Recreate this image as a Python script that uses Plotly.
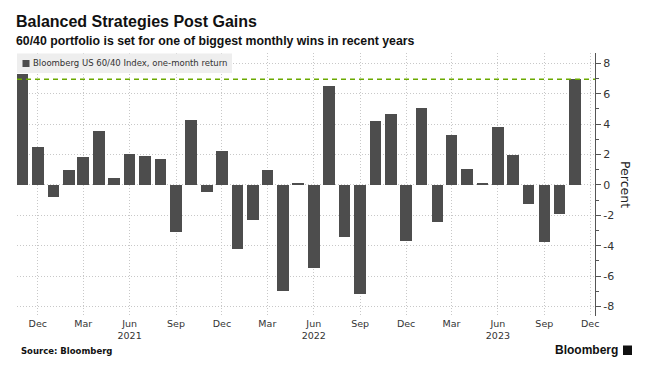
import plotly.graph_objects as go

# ---- data ----
months = [
    "2020-11-01", "2020-12-01", "2021-01-01", "2021-02-01", "2021-03-01", "2021-04-01",
    "2021-05-01", "2021-06-01", "2021-07-01", "2021-08-01", "2021-09-01", "2021-10-01",
    "2021-11-01", "2021-12-01", "2022-01-01", "2022-02-01", "2022-03-01", "2022-04-01",
    "2022-05-01", "2022-06-01", "2022-07-01", "2022-08-01", "2022-09-01", "2022-10-01",
    "2022-11-01", "2022-12-01", "2023-01-01", "2023-02-01", "2023-03-01", "2023-04-01",
    "2023-05-01", "2023-06-01", "2023-07-01", "2023-08-01", "2023-09-01", "2023-10-01",
    "2023-11-01",
]
returns = [
    7.3, 2.5, -0.8, 1.0, 1.85, 3.55,
    0.44, 2.05, 1.9, 1.7, -3.1, 4.27,
    -0.45, 2.24, -4.2, -2.28, 1.0, -6.95,
    0.13, -5.46, 6.5, -3.4, -7.2, 4.23,
    4.67, -3.66, 5.09, -2.41, 3.29, 1.07,
    0.07, 3.8, 2.0, -1.22, -3.76, -1.9,
    6.95,
]
latest_value = 6.95

tick_dates = [
    "2020-12-01", "2021-03-01", "2021-06-01", "2021-09-01", "2021-12-01",
    "2022-03-01", "2022-06-01", "2022-09-01", "2022-12-01", "2023-03-01",
    "2023-06-01", "2023-09-01", "2023-12-01",
]
tick_labels = [
    "Dec", "Mar", "Jun<br>2021", "Sep", "Dec", "Mar", "Jun<br>2022", "Sep",
    "Dec", "Mar", "Jun<br>2023", "Sep", "Dec",
]
y_ticks = [8, 6, 4, 2, 0, -2, -4, -6, -8]

title = "Balanced Strategies Post Gains"
subtitle = "60/40 portfolio is set for one of biggest monthly wins in recent years"
series_name = "Bloomberg US 60/40 Index, one-month return"

DAY_MS = 86400000

# page body has an 8px default margin; the figure is sized to fill the rest
PW, PH = 578, 263          # plot area size in px
L0, T0 = 17, 53            # plot area top-left in page px


def px(xp):
    return (xp - L0) / PW


def py(yp):
    return (T0 + PH - yp) / PH


fig = go.Figure()
fig.add_trace(go.Bar(
    x=months, y=returns,
    width=22.8 * DAY_MS,
    marker=dict(color="#4d4d4d", line=dict(width=0)),
    name=series_name, showlegend=False,
))

# dashed reference line at latest value
fig.add_shape(type="line", xref="paper", yref="y", x0=0, x1=1,
              y0=latest_value, y1=latest_value,
              line=dict(color="#6aa900", width=1.4, dash="5px,4px"), layer="above")

# legend box
fig.add_shape(type="rect", xref="paper", yref="paper",
              x0=0, x1=px(232), y0=py(73), y1=py(53.5),
              fillcolor="#eeeeee", line=dict(width=0), layer="above")
fig.add_shape(type="rect", xref="paper", yref="paper",
              x0=px(22.5), x1=px(29.5), y0=py(67), y1=py(60),
              fillcolor="#4d4d4d", line=dict(width=0), layer="above")
fig.add_annotation(xref="paper", yref="paper", x=px(30.5), y=py(63.5),
                   text=series_name, showarrow=False, xanchor="left", yanchor="middle",
                   font=dict(family="DejaVu Sans", size=8.5, color="#333333"))

# titles
fig.add_annotation(xref="paper", yref="paper", x=px(14), y=py(21),
                   text="<b>" + title + "</b>", showarrow=False, xanchor="left", yanchor="middle",
                   font=dict(family="Liberation Sans", size=16, color="#111111"))
fig.add_annotation(xref="paper", yref="paper", x=px(14), y=py(41),
                   text="<b>" + subtitle + "</b>", showarrow=False, xanchor="left", yanchor="middle",
                   font=dict(family="Liberation Sans", size=12.3, color="#111111"))

# y axis title
fig.add_annotation(xref="paper", yref="paper", x=px(625.5), y=0.5,
                   text="Percent", showarrow=False, textangle=90,
                   xanchor="center", yanchor="middle",
                   font=dict(family="DejaVu Sans", size=12.5, color="#222222"))

# footer
fig.add_annotation(xref="paper", yref="paper", x=px(19), y=py(350.5),
                   text="<b>Source: Bloomberg</b>", showarrow=False, xanchor="left", yanchor="middle",
                   font=dict(family="DejaVu Sans", size=8.5, color="#111111"))
fig.add_annotation(xref="paper", yref="paper", x=px(620), y=py(350),
                   text="<b>Bloomberg</b>", showarrow=False, xanchor="right", yanchor="middle",
                   font=dict(family="Liberation Sans", size=12, color="#111111"))
fig.add_shape(type="rect", xref="paper", yref="paper",
              x0=px(623), x1=px(632), y0=py(355), y1=py(345.5),
              fillcolor="#111111", line=dict(width=0))

fig.update_layout(
    template="none",
    width=652, height=367,
    margin=dict(l=L0 - 8, r=652 - (L0 - 8) - PW, t=T0 - 8, b=367 - (T0 - 8) - PH, autoexpand=False),
    paper_bgcolor="white", plot_bgcolor="white",
    bargap=0, showlegend=False,
    font=dict(family="DejaVu Sans", color="#333333"),
    xaxis=dict(
        type="date", automargin=False,
        range=["2020-10-20 18:00", "2023-12-10 12:00"],
        tickmode="array", tickvals=tick_dates, ticktext=tick_labels,
        showgrid=True, gridcolor="#c8c8c8", griddash="1px,2px", gridwidth=1,
        ticks="", showline=False, zeroline=False,
        tickfont=dict(family="DejaVu Sans", size=9.5, color="#333333"),
        ticklabelstandoff=0,
    ),
    yaxis=dict(
        side="right", automargin=False, range=[-8.62, 8.68],
        tickmode="array", tickvals=y_ticks, ticktext=[str(v) for v in y_ticks],
        showgrid=True, gridcolor="#c8c8c8", griddash="1px,2px", gridwidth=1,
        zeroline=False,
        showline=True, linecolor="#555555", linewidth=1,
        ticks="outside", ticklen=5, tickcolor="#555555",
        minor=dict(dtick=1, tick0=1, ticks="outside", ticklen=3, tickcolor="#555555", showgrid=False),
        tickfont=dict(family="DejaVu Sans", size=11, color="#333333"),
    ),
)

fig.write_html("out.html")
